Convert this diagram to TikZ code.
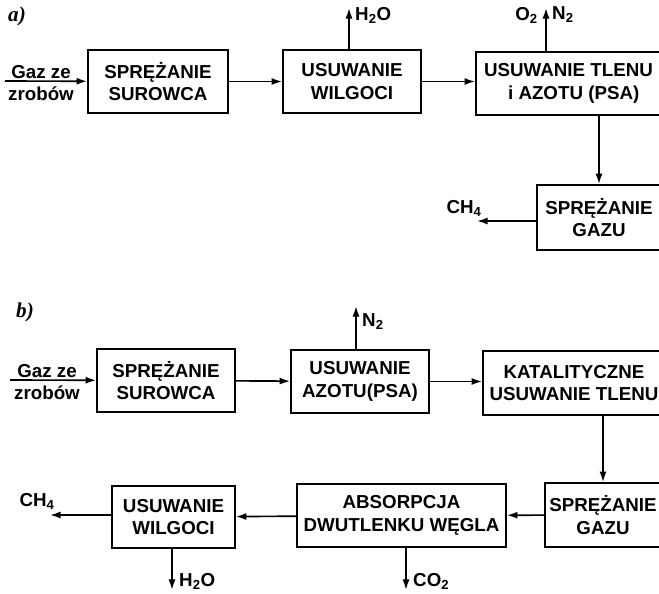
\documentclass[tikz,border=0pt]{standalone}
\usepackage{fontspec}
\setmainfont{Liberation Sans}
\newfontfamily\literafont{Liberation Serif}
\usetikzlibrary{arrows.meta}

\tikzset{
  blok/.style={draw, line width=1.5pt, align=center, inner sep=0pt,
    font=\fontsize{16}{19}\selectfont\bfseries},
  strz/.style={-{Latex[length=9pt,width=6pt]}, line width=1.4pt},
  opis/.style={font=\fontsize{16}{19}\selectfont\bfseries, inner sep=0pt},
  litera/.style={font=\fontsize{18}{20}\selectfont\literafont\bfseries\itshape, inner sep=0pt}
}

\begin{document}
\begin{tikzpicture}[x=0.03cm, y=-0.03cm]
  \useasboundingbox (0,0) rectangle (659,594);
  \clip (0,0) rectangle (659,594);

  % --- Część a) ---
  \node[litera] (la) at (17,16) {a)};

  % Wejście gazu
  \coordinate (wea) at (5,81);
  \node[opis, align=center] (gaza) at (41,83) {Gaz ze\\zrobów};

  % Bloki
  \node[blok, minimum width=4.2cm, minimum height=1.89cm] (s1) at (158,81.5) {SPRĘŻANIE\\SUROWCA};
  \node[blok, minimum width=4.14cm, minimum height=1.89cm] (w1) at (352,81.5) {USUWANIE\\WILGOCI};
  \node[blok, minimum width=5.55cm, minimum height=1.89cm] (t1) at (568.5,83.5) {USUWANIE TLENU\\\ \ i AZOTU (PSA)};
  \node[blok, minimum width=3.72cm, minimum height=1.95cm] (g1) at (599,217.5) {SPRĘŻANIE\\GAZU};

  % Strzałki
  \draw[strz] (wea) -- (s1);
  \draw[strz] (s1) -- (w1);
  \draw[strz] (w1.east) -- (w1.east -| t1.west);
  \draw[strz] (g1 |- t1.south) -- (g1);

  % Produkty
  \coordinate (h2oa) at (349,8);
  \draw[strz] (w1.north -| h2oa) -- (h2oa);
  \node[opis, anchor=west] (h2oaL) at (355,15) {H\textsubscript{2}O};

  \coordinate (ona) at (546,8);
  \draw[strz] (t1.north -| ona) -- (ona);
  \node[opis, anchor=east] (o2a) at (538,15) {O\textsubscript{2}};
  \node[opis, anchor=west] (n2a) at (552,15) {N\textsubscript{2}};

  \coordinate (ch4a) at (477,221);
  \draw[strz] (g1.west |- ch4a) -- (ch4a);
  \node[opis] (ch4aL) at (464,208) {CH\textsubscript{4}};

  % --- Część b) ---
  \node[litera] (lb) at (25,312) {b)};

  % Wejście gazu
  \coordinate (web) at (10,380);
  \node[opis, align=center] (gazb) at (47,382) {Gaz ze\\zrobów};

  % Bloki - górny rząd
  \node[blok, minimum width=4.14cm, minimum height=1.89cm] (s2) at (166,380.5) {SPRĘŻANIE\\SUROWCA};
  \node[blok, minimum width=4.14cm, minimum height=1.89cm] (a2) at (360,381.5) {USUWANIE\\AZOTU(PSA)};
  \node[blok, minimum width=5.46cm, minimum height=1.92cm] (k2) at (574,383) {KATALITYCZNE\\USUWANIE TLENU};

  % Bloki - dolny rząd
  \node[blok, minimum width=3.48cm, minimum height=1.92cm] (g2) at (603,515) {SPRĘŻANIE\\GAZU};
  \node[blok, minimum width=6.27cm, minimum height=1.89cm] (d2) at (401.5,515.5) {ABSORPCJA\\DWUTLENKU WĘGLA};
  \node[blok, minimum width=3.69cm, minimum height=1.86cm] (u2) at (173.5,517) {USUWANIE\\WILGOCI};

  % Strzałki
  \draw[strz] (web) -- (s2);
  \draw[strz] (s2) -- (a2);
  \draw[strz] (a2.east) -- (a2.east -| k2.west);
  \draw[strz] (g2 |- k2.south) -- (g2);
  \draw[strz] (g2) -- (d2);
  \draw[strz] (d2) -- (u2);

  % Produkty
  \coordinate (n2b) at (356,306);
  \draw[strz] (a2.north -| n2b) -- (n2b);
  \node[opis, anchor=west] (n2bL) at (362,322) {N\textsubscript{2}};

  \coordinate (ch4b) at (50,515);
  \draw[strz] (u2.west |- ch4b) -- (ch4b);
  \node[opis] (ch4bL) at (37,501) {CH\textsubscript{4}};

  \coordinate (h2ob) at (172,590);
  \draw[strz] (u2.south -| h2ob) -- (h2ob);
  \node[opis, anchor=west] (h2obL) at (179,581) {H\textsubscript{2}O};

  \coordinate (co2b) at (406,590);
  \draw[strz] (d2.south -| co2b) -- (co2b);
  \node[opis, anchor=west] (co2bL) at (413,581) {CO\textsubscript{2}};
\end{tikzpicture}
\end{document}
